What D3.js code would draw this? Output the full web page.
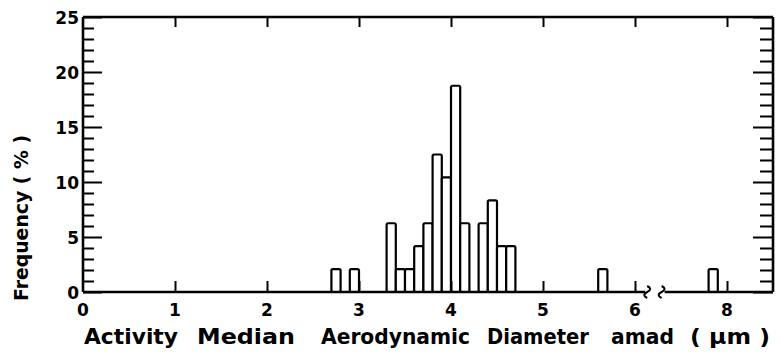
<!DOCTYPE html>
<html>
<head>
<meta charset="utf-8">
<script src="https://cdn.jsdelivr.net/npm/d3@7"></script>
<style>
  body { margin: 0; background: #fff; }
  text { font-family: "DejaVu Sans", sans-serif; font-weight: bold; fill: #000; }
</style>
</head>
<body>
<div id="chart"></div>
<script>
// DATA: 0.1 um bins (left edge), frequency in % (one count = 1/48)
const binStarts = [2.7, 2.9, 3.3, 3.4, 3.5, 3.6, 3.7, 3.8, 3.9, 4.0, 4.1, 4.3, 4.4, 4.5, 4.6, 5.6, 7.8];
const binCounts = [1, 1, 3, 1, 1, 2, 3, 6, 5, 9, 3, 3, 4, 2, 2, 1, 1];
const freqs = binCounts.map((c) => (c / 48) * 100);
const binWidth = 0.1;
const xTickValues = [0, 1, 2, 3, 4, 5, 6, 8];
const topTickValues = [1, 2, 3, 4, 5, 6, 7];
const yTickValues = [0, 5, 10, 15, 20, 25];
const titleWords = ["Activity", "Median", "Aerodynamic", "Diameter", "amad", "( \u03bcm )"];
const titleWordX = [84, 197, 321, 487, 611, 690];
const titleWordW = [94, 98, 149, 102, 63, 80];

const width = 781;
const height = 357;
const margin = { top: 17, left: 83, bottom: 65 };
const unit = 92;
const plotW = unit * 7.5;
const plotH = height - margin.top - margin.bottom;

const svg = d3
  .select("#chart")
  .append("svg")
  .attr("width", width)
  .attr("height", height);

const g = svg.append("g").attr("transform", `translate(${margin.left},${margin.top})`);

// X SCALE (broken between 6.5 and 7.5)
const xScale = d3
  .scaleLinear()
  .domain([0, 6.5, 7.5, 8.5])
  .range([0, unit * 6.5, unit * 6.5, unit * 7.5]);
const xTop = d3.scaleLinear().domain([0, 7.5]).range([0, plotW]);

// Y SCALE
const yScale = d3.scaleLinear().domain([0, 25]).range([plotH, 0]);

// BARS
g.append("g")
  .selectAll("rect")
  .data(binStarts)
  .join("rect")
  .attr("x", (d) => xScale(d))
  .attr("y", (d, i) => yScale(freqs[i]))
  .attr("width", (d) => xScale(d + binWidth) - xScale(d))
  .attr("height", (d, i) => yScale(0) - yScale(freqs[i]))
  .attr("fill", "#fff")
  .attr("stroke", "#000")
  .attr("stroke-width", 2.2)
  .attr("rx", 1.5);

// LEFT AXIS: ticks inside, minor every 1
const yMinor = d3.range(0, 26);
const leftAxis = d3.axisRight(yScale).tickValues(yMinor).tickSize(0).tickFormat("");
const axisLeftG = g.append("g").call(leftAxis);
axisLeftG.select(".domain").remove();
axisLeftG
  .selectAll(".tick line")
  .attr("x2", (d) => (d % 5 === 0 ? 19 : 11))
  .attr("stroke", "#000")
  .attr("stroke-width", 2);

// RIGHT AXIS
const rightAxisG = g
  .append("g")
  .attr("transform", `translate(${plotW},0)`)
  .call(d3.axisLeft(yScale).tickValues(yMinor).tickSize(0).tickFormat(""));
rightAxisG.select(".domain").remove();
rightAxisG
  .selectAll(".tick line")
  .attr("x2", (d) => (d % 5 === 0 ? -20 : -13))
  .attr("stroke", "#000")
  .attr("stroke-width", 2);

// Y TICK LABELS
g.append("g")
  .selectAll("text")
  .data(yTickValues)
  .join("text")
  .attr("x", -4)
  .attr("y", (d) => yScale(d) + 2)
  .attr("text-anchor", "end")
  .attr("dominant-baseline", "middle")
  .attr("font-size", 17)
  .text((d) => d);

// TOP AXIS
const topAxisG = g.append("g").call(
  d3.axisBottom(xTop).tickValues(topTickValues).tickSize(10).tickFormat("")
);
topAxisG.select(".domain").remove();
topAxisG.selectAll(".tick line").attr("stroke", "#000").attr("stroke-width", 2);

// BOTTOM AXIS: inward ticks
const bottomAxisG = g
  .append("g")
  .attr("transform", `translate(0,${plotH})`)
  .call(d3.axisTop(xScale).tickValues(xTickValues.filter((d) => d > 0)).tickSize(11).tickFormat(""));
bottomAxisG.select(".domain").remove();
bottomAxisG.selectAll(".tick line").attr("stroke", "#000").attr("stroke-width", 2);

// FRAME
const frame = g.append("g").attr("stroke", "#000").attr("stroke-width", 2.6).attr("fill", "none");
frame.append("line").attr("x1", 0).attr("x2", plotW).attr("y1", 0).attr("y2", 0);
frame.append("line").attr("x1", 0).attr("x2", 0).attr("y1", 0).attr("y2", plotH);
frame.append("line").attr("x1", plotW).attr("x2", plotW).attr("y1", 0).attr("y2", plotH);

// bottom line with axis break
const breakL = xScale(6.1) + 1;
const breakR = xScale(6.3) + 2;
frame.append("line").attr("x1", 0).attr("x2", breakL).attr("y1", plotH).attr("y2", plotH);
frame.append("line").attr("x1", breakR).attr("x2", plotW).attr("y1", plotH).attr("y2", plotH);
const squiggle = (x) =>
  `M${x - 1},${plotH - 6} c4,2 4,4 0,6 c-4,2 -4,4 0,6`;
frame.append("path").attr("d", squiggle(breakL + 3)).attr("stroke-width", 2);
frame.append("path").attr("d", squiggle(breakR - 2)).attr("stroke-width", 2);

// X TICK LABELS
g.append("g")
  .selectAll("text")
  .data(xTickValues)
  .join("text")
  .attr("x", (d) => xScale(d))
  .attr("y", plotH + 19)
  .attr("text-anchor", "middle")
  .attr("dominant-baseline", "middle")
  .attr("font-size", 17)
  .text((d) => d);

// AXIS TITLES
svg
  .append("g")
  .selectAll("text")
  .data(titleWords)
  .join("text")
  .attr("x", (d, i) => titleWordX[i])
  .attr("y", 344)
  .attr("font-size", 21)
  .attr("textLength", (d, i) => titleWordW[i])
  .attr("lengthAdjust", "spacingAndGlyphs")
  .text((d) => d);

svg
  .append("text")
  .attr("transform", "translate(28,218) rotate(-90)")
  .attr("text-anchor", "middle")
  .attr("font-size", 20)
  .attr("textLength", 166)
  .attr("lengthAdjust", "spacingAndGlyphs")
  .text("Frequency ( % )");
</script>
</body>
</html>
